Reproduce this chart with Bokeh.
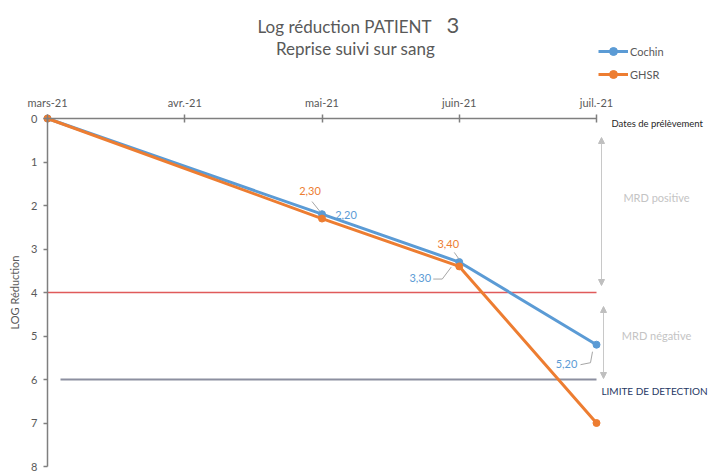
import math
from bokeh.plotting import figure
from bokeh.models import (Range1d, LinearAxis, FixedTicker, Label, Arrow, NormalHead,
                          Legend, LegendItem)
from bokeh.embed import file_html
from bokeh.resources import INLINE

# ---- data ----
months = ["mars-21", "avr.-21", "mai-21", "juin-21", "juil.-21"]
sample_idx = [0, 2, 3, 4]
cochin = [0.0, 2.20, 3.30, 5.20]
ghsr = [0.0, 2.30, 3.40, 7.00]
mrd_threshold = 4
detection_limit = 6
y_ticks = [0, 1, 2, 3, 4, 5, 6, 7, 8]

BLUE = "#5B9BD5"
ORANGE = "#ED7D31"
GREY_TXT = "#595959"
FONT = "Lato"

# pixel scale helpers (picture px -> data) for annotation placement
X0, XS = 47.0, 137.25   # picture x of month 0, px per month
Y0, YS = 118.0, 43.5    # picture y of value 0, px per unit
FIG_OFF = 0
W, H = 715, 471


def dx(wx):
    return (wx - X0) / XS


def dy(wy):
    return (wy - Y0) / YS


p = figure(width=W, height=H, output_backend="svg", toolbar_location=None,
           x_range=Range1d(dx(FIG_OFF), dx(FIG_OFF + W)),
           y_range=Range1d(dy(FIG_OFF + H), dy(FIG_OFF)),
           x_axis_location=None, y_axis_location=None, min_border=0)
p.grid.visible = False
p.outline_line_color = None
p.background_fill_color = "white"
p.border_fill_color = "white"

# ---- axes ----
xax = LinearAxis(fixed_location=0, bounds=(0, len(months) - 1),
                 ticker=FixedTicker(ticks=list(range(len(months)))),
                 major_label_overrides={i: m for i, m in enumerate(months)})
xax.axis_line_color = "#7f7f7f"
xax.axis_line_width = 1.5
xax.major_tick_line_color = "#7f7f7f"
xax.major_tick_line_width = 1.5
xax.major_tick_in = 4
xax.major_tick_out = 4
xax.minor_tick_line_color = None
xax.major_label_standoff = 6
xax.major_label_text_font = FONT
xax.major_label_text_font_size = "11px"
xax.major_label_text_color = GREY_TXT
p.add_layout(xax, "above")

yax = LinearAxis(fixed_location=0, bounds=(0, 8), ticker=FixedTicker(ticks=y_ticks))
yax.axis_line_color = "#7f7f7f"
yax.axis_line_width = 1.5
yax.major_tick_line_color = "#7f7f7f"
yax.major_tick_line_width = 1.5
yax.major_tick_in = 0
yax.major_tick_out = 4
yax.minor_tick_line_color = None
yax.major_label_standoff = 6
yax.major_label_text_font = FONT
yax.major_label_text_font_size = "11px"
yax.major_label_text_color = GREY_TXT
p.add_layout(yax, "left")

# ---- reference lines ----
p.line([0, len(months) - 1], [mrd_threshold, mrd_threshold], line_color="#E05A5A", line_width=1.3)
p.line([dx(60), len(months) - 1], [detection_limit, detection_limit], line_color="#8C8FA0", line_width=2)

# ---- series ----
r_cl = p.line(sample_idx, cochin, line_color=BLUE, line_width=3)
r_cs = p.scatter(sample_idx, cochin, size=7, fill_color=BLUE, line_color=BLUE)
r_gl = p.line(sample_idx, ghsr, line_color=ORANGE, line_width=3)
r_gs = p.scatter(sample_idx, ghsr, size=7, fill_color=ORANGE, line_color=ORANGE)

legend = Legend(items=[LegendItem(label="Cochin", renderers=[r_cl, r_cs]),
                       LegendItem(label="GHSR", renderers=[r_gl, r_gs])],
                location=(598, H - 84), orientation="vertical",
                glyph_width=30, glyph_height=20, label_height=20, spacing=3,
                padding=0, margin=0, label_standoff=2,
                label_text_font=FONT, label_text_font_size="11px",
                label_text_color=GREY_TXT,
                border_line_color=None, background_fill_alpha=0)
p.add_layout(legend)


def fmt(v):
    return f"{v:.2f}".replace(".", ",")


# data labels: (series values, index, color, text offset px, leader path offsets px)
data_labels = [
    (ghsr, 1, ORANGE, (-12, -28), [(-10, -17), (-2, -7)]),
    (cochin, 1, BLUE, (24, 1), None),
    (ghsr, 2, ORANGE, (-11, -22), [(-5, -14), (0, -7)]),
    (cochin, 2, BLUE, (-39, 16), [(-26, 17), (-17, 17), (-8, 5)]),
    (cochin, 3, BLUE, (-30, 19), [(-16, 20), (-6, 18), (-4, 7)]),
]
for series, i, col, (ox, oy), path in data_labels:
    xv, yv = sample_idx[i], series[i]
    p.add_layout(Label(x=xv + ox / XS, y=yv + oy / YS, text=fmt(yv),
                       text_align="center", text_baseline="middle",
                       text_font=FONT, text_font_size="11px", text_color=col))
    if path:
        p.line([xv + a / XS for a, b in path], [yv + b / YS for a, b in path],
               line_color="#a6a6a6", line_width=1)

# ---- zone arrows ----
head = dict(size=6, fill_color="#bfbfbf", line_color="#bfbfbf")
p.add_layout(Arrow(x_start=dx(601), y_start=dy(137), x_end=dx(601), y_end=dy(285),
                   start=NormalHead(**head), end=NormalHead(**head),
                   line_color="#c8c8c8", line_width=1))
p.add_layout(Arrow(x_start=dx(603), y_start=dy(306), x_end=dx(603), y_end=dy(378),
                   start=NormalHead(**head), end=NormalHead(**head),
                   line_color="#c8c8c8", line_width=1))

# ---- texts ----
def txt(wx, wy, s, size, color, align="center", angle=0.0, style="normal"):
    p.add_layout(Label(x=dx(wx), y=dy(wy), text=s, text_align=align,
                       text_baseline="middle", text_font=FONT, text_font_size=size,
                       text_color=color, angle=angle, text_font_style=style))


txt(656, 197, "MRD positive", "11px", "#c4c4c4")
txt(656, 335, "MRD négative", "11px", "#c4c4c4")
txt(654, 390, "LIMITE DE DETECTION", "10px", "#1F3864")
txt(611, 123, "Dates de prélèvement", "9.5px", "#262626", align="left")
txt(14, 292, "LOG Réduction", "11px", GREY_TXT, angle=math.pi / 2)

txt(257, 26, "Log réduction PATIENT", "17px", GREY_TXT, align="left")
txt(446, 25, "3", "22px", GREY_TXT, align="left")
txt(355, 48, "Reprise suivi sur sang", "17px", GREY_TXT)

open("out.html", "w").write(file_html(p, INLINE))
